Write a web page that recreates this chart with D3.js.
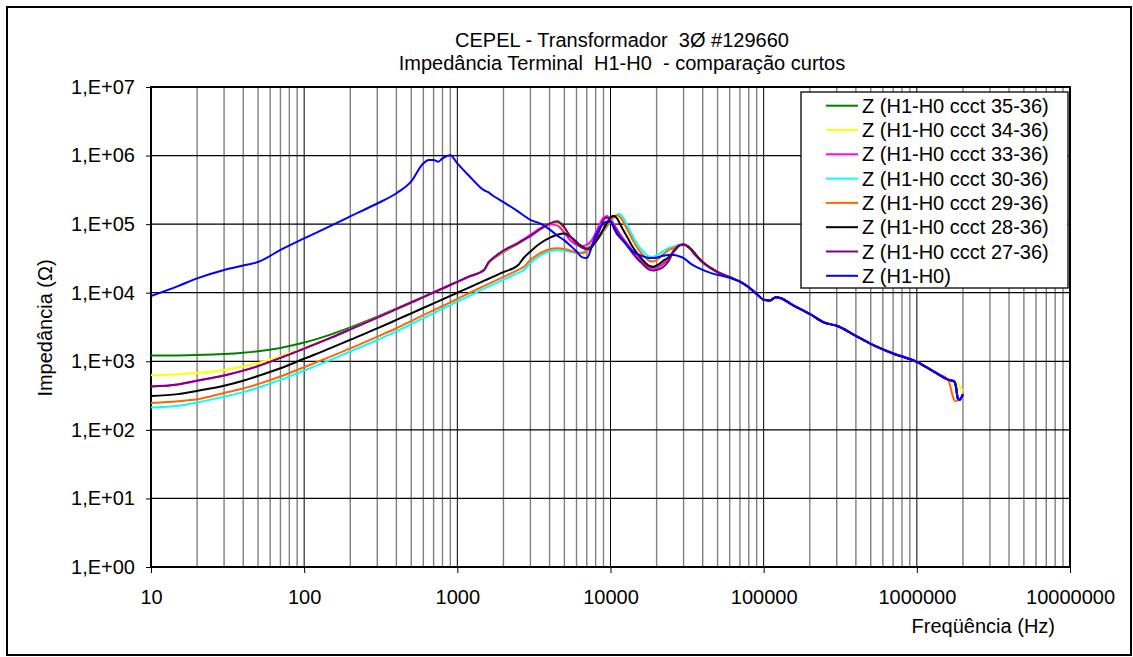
<!DOCTYPE html>
<html>
<head>
<meta charset="utf-8">
<script src="https://cdn.jsdelivr.net/npm/d3@7"></script>
<style>
  html, body { margin: 0; padding: 0; background: #fff; }
  svg text { font-family: "Liberation Sans", Arial, Helvetica, sans-serif; fill: #000; }
</style>
</head>
<body>
<svg id="chart" width="1133" height="657"></svg>
<script>
// Frequency sweep points (Hz), shared by every measured curve
const freq = [10, 15, 20, 30, 40, 50, 70, 100, 150, 200, 300, 400, 500, 600, 650, 700, 750, 800, 900, 1000,
  1200, 1500, 1600, 1700, 2000, 2500, 2700, 3000, 3500, 4000, 4500, 5000, 5500, 6000, 6500, 7000, 7500, 8000,
  8500, 9000, 9500, 10000, 10500, 11000, 11500, 12000, 13000, 14000, 15000, 16000, 17000, 18000, 19000, 20000,
  22000, 24000, 26000, 28000, 30000, 33000, 36000, 40000, 45000, 50000, 60000, 70000, 80000, 90000, 100000,
  110000, 120000, 130000, 150000, 200000, 250000, 300000, 400000, 500000, 700000, 1000000, 1300000, 1600000,
  1750000, 1800000, 1850000, 1900000, 2000000];

// Impedance magnitude |Z| (ohm) for each short-circuit configuration
const zCcct3536 = [1210, 1219, 1234, 1275, 1331, 1399, 1567, 1874, 2469, 3118, 4480, 5879, 7294, 8716, 9429, 10143, 10858, 11573, 13005, 14438,
  17308, 21615, 27000, 30500, 39000, 52000, 58000, 68000, 86000, 100000, 103000, 85000, 64000, 53000, 48000, 47000, 52000, 66000,
  90000, 118000, 127000, 118000, 100000, 84000, 72000, 63000, 50000, 40000, 33500, 29000, 25500, 23500, 23000, 23500,
  26500, 31500, 42000, 49000, 50500, 44000, 35000, 27500, 23000, 20000, 16800, 14500, 12000, 9600, 7900,
  7700, 8600, 8300, 6900, 4900, 3650, 3300, 2350, 1800, 1300, 980, 700, 540,
  510, 430, 290, 275, 330];

const zCcct3436 = [627, 647, 674, 747, 839, 943, 1177, 1563, 2243, 2942, 4359, 5787, 7220, 8655, 9372, 10090, 10808, 11527, 12964, 14401,
  17277, 21591, 27500, 31000, 40000, 53000, 59000, 69000, 87000, 100000, 100000, 80000, 60000, 51000, 47500, 48000, 54000, 70000,
  95000, 122000, 129000, 118000, 100000, 84000, 72000, 63000, 50000, 40000, 33500, 29000, 25500, 23000, 22000, 22500,
  25500, 31000, 42000, 49000, 50500, 44000, 35000, 27500, 23000, 20000, 16800, 14500, 12000, 9600, 7900,
  7700, 8600, 8300, 6900, 4900, 3650, 3300, 2350, 1800, 1300, 980, 700, 540,
  515, 500, 470, 430, 370];

const zCcct3336 = [430, 459, 520, 620, 730, 850, 1120, 1530, 2210, 2915, 4340, 5772, 7207, 8643, 9362, 10081, 10800, 11519, 12957, 14395,
  17272, 21587, 28000, 31500, 41000, 54000, 60000, 70000, 88000, 100000, 95000, 75000, 57000, 50000, 48000, 50000, 57000, 75000,
  100000, 125000, 131000, 118000, 100000, 84000, 72000, 63000, 50000, 40000, 33000, 28500, 25000, 23000, 22500, 23000,
  26000, 31000, 42000, 49000, 50500, 44000, 35000, 27500, 23000, 20000, 16800, 14500, 12000, 9600, 7900,
  7700, 8600, 8300, 6900, 4900, 3650, 3300, 2350, 1800, 1300, 980, 700, 540,
  510, 430, 290, 275, 330];

const zCcct3036 = [211, 224, 250, 305, 355, 412, 535, 735, 1060, 1390, 2045, 2722, 3500, 4250, 4650, 5050, 5450, 5850, 6600, 7400,
  9000, 11500, 12300, 13100, 15500, 19500, 21000, 27000, 35000, 40000, 41500, 41000, 39500, 38000, 38500, 42000, 48000, 56000,
  66000, 78000, 92000, 108000, 124000, 136000, 140000, 128000, 92000, 66000, 51000, 42000, 36500, 33500, 33500, 35000,
  40000, 45000, 47000, 50000, 51000, 45000, 36000, 28000, 23000, 20000, 16800, 14500, 12000, 9600, 7900,
  7700, 8600, 8300, 6900, 4900, 3650, 3300, 2350, 1800, 1300, 980, 700, 540,
  510, 430, 290, 275, 330];

const zCcct2936 = [247, 261, 279, 345, 400, 465, 600, 820, 1180, 1540, 2280, 3030, 3850, 4700, 5120, 5550, 5980, 6400, 7250, 8100,
  9900, 12600, 13500, 14400, 17000, 21500, 23500, 30000, 38000, 43000, 44500, 43500, 41000, 38500, 37500, 40000, 46000, 55000,
  66000, 80000, 95000, 112000, 127000, 135000, 128000, 112000, 80000, 58000, 45000, 37000, 32000, 29000, 28500, 30000,
  36000, 42000, 45000, 49000, 50500, 45000, 36000, 28000, 23000, 20000, 16800, 14500, 12000, 9600, 7900,
  7700, 8600, 8300, 6900, 4900, 3650, 3300, 2350, 1800, 1300, 980, 700, 540,
  275, 262, 268, 280, 320];

const zCcct2836 = [312, 332, 370, 440, 520, 610, 790, 1090, 1570, 2060, 3012, 4007, 5004, 6001, 6500, 6999, 7498, 7997, 8996, 9994,
  11992, 14988, 16000, 17000, 20000, 25400, 31800, 40000, 53000, 63000, 70000, 73000, 65000, 55000, 47000, 43500, 46000, 55000,
  68000, 85000, 105000, 125000, 133000, 122000, 102000, 85000, 62000, 46000, 37000, 31000, 27000, 24500, 24000, 25000,
  29000, 33000, 40000, 48000, 50500, 45000, 36000, 28000, 23000, 20000, 16800, 14500, 12000, 9600, 7900,
  7700, 8600, 8300, 6900, 4900, 3650, 3300, 2350, 1800, 1300, 980, 700, 540,
  510, 430, 290, 275, 330];

const zCcct2736 = [430, 459, 520, 620, 730, 850, 1120, 1530, 2210, 2915, 4340, 5772, 7207, 8643, 9362, 10081, 10800, 11519, 12957, 14395,
  17272, 21587, 28000, 31500, 41000, 53000, 58700, 67000, 85000, 102000, 110000, 90000, 65000, 52000, 45500, 43000, 47000, 60000,
  82000, 115000, 125000, 112000, 95000, 80000, 68000, 60000, 47000, 37000, 31000, 27000, 23500, 21500, 21000, 21500,
  23500, 29000, 41000, 49000, 50500, 44000, 35000, 27500, 23000, 20000, 16800, 14500, 12000, 9600, 7900,
  7700, 8600, 8300, 6900, 4900, 3650, 3300, 2350, 1800, 1300, 980, 700, 540,
  510, 430, 290, 275, 330];

const zH1H0 = [8950, 12500, 16200, 21500, 25000, 28000, 42000, 62000, 95000, 130000, 200000, 282000, 420000, 770000, 862000, 862000, 815000, 912000, 1010000, 770000,
  500000, 310000, 290000, 262000, 210000, 152000, 135000, 115000, 102000, 84000, 68000, 58000, 48000, 40000, 33000, 32000, 45000, 68000,
  88000, 103000, 108000, 108000, 88000, 72000, 64000, 58000, 47000, 40000, 36500, 34500, 33000, 32000, 32000, 32500,
  34500, 35500, 35500, 34000, 32000, 27000, 24000, 21500, 19500, 18200, 16500, 14500, 12000, 9600, 7900,
  7700, 8600, 8300, 6900, 4900, 3650, 3300, 2350, 1800, 1300, 980, 700, 540,
  510, 430, 290, 275, 330];

const seriesNames = ["Z (H1-H0 ccct 35-36)", "Z (H1-H0 ccct 34-36)", "Z (H1-H0 ccct 33-36)", "Z (H1-H0 ccct 30-36)",
  "Z (H1-H0 ccct 29-36)", "Z (H1-H0 ccct 28-36)", "Z (H1-H0 ccct 27-36)", "Z (H1-H0)"];
const seriesColors = ["#008000", "#FFFF00", "#FF00FF", "#00FFFF", "#FF6600", "#000000", "#800080", "#0000FF"];
const seriesValues = [zCcct3536, zCcct3436, zCcct3336, zCcct3036, zCcct2936, zCcct2836, zCcct2736, zH1H0];

const xTicks = [10, 100, 1000, 10000, 100000, 1000000, 10000000];
const yTicks = [1, 10, 100, 1000, 10000, 100000, 1000000, 10000000];

const titleLines = ["CEPEL - Transformador  3\u00D8 #129660", "Impedância Terminal  H1-H0  - comparação curtos"];
const xTitle = "Freqüência (Hz)";
const yTitle = "Impedância (\u03A9)";

// ---- layout ----
const plot = { left: 151, right: 1070, top: 87, bottom: 567 };
const svg = d3.select("#chart");

const x = d3.scaleLog().domain([10, 1e7]).range([plot.left, plot.right]);
const y = d3.scaleLog().domain([1, 1e7]).range([plot.bottom, plot.top]);

// outer chart frame
svg.append("rect").attr("x", 7).attr("y", 7).attr("width", 1124).attr("height", 648)
  .attr("fill", "#fff").attr("stroke", "#000").attr("stroke-width", 2);

// titles
const title = svg.append("g").attr("font-size", 20).attr("text-anchor", "middle");
titleLines.forEach((t, i) => {
  title.append("text").attr("x", 622).attr("y", 47 + i * 22.5).style("white-space", "pre").text(t);
});

// minor vertical gridlines (2..9 within each decade)
const minorX = [];
for (let d = 10; d < 1e7; d *= 10) for (let k = 2; k <= 9; k++) minorX.push(d * k);

const grid = svg.append("g");
grid.selectAll("line.minor").data(minorX).join("line")
  .attr("class", "minor")
  .attr("x1", d => x(d)).attr("x2", d => x(d))
  .attr("y1", plot.top).attr("y2", plot.bottom)
  .attr("stroke", "#808080").attr("stroke-width", 1.4);
grid.selectAll("line.vmajor").data(xTicks).join("line")
  .attr("class", "vmajor")
  .attr("x1", d => x(d)).attr("x2", d => x(d))
  .attr("y1", plot.top).attr("y2", plot.bottom)
  .attr("stroke", "#000").attr("stroke-width", 1);
grid.selectAll("line.hmajor").data(yTicks).join("line")
  .attr("class", "hmajor")
  .attr("x1", plot.left).attr("x2", plot.right)
  .attr("y1", d => y(d)).attr("y2", d => y(d))
  .attr("stroke", "#000").attr("stroke-width", 1.2);

// axes
const xAxis = d3.axisBottom(x).tickValues(xTicks).tickFormat(d3.format("d"))
  .tickSizeInner(6).tickSizeOuter(0).tickPadding(17);
const gx = svg.append("g").attr("transform", `translate(0,${plot.bottom})`).call(xAxis);
gx.select(".domain").remove();
gx.selectAll("text").attr("font-size", 20).attr("font-family", null);
gx.selectAll("line").attr("stroke", "#000");

const fmtExp = d => "1,E+" + String(Math.round(Math.log10(d))).padStart(2, "0");
const yAxis = d3.axisLeft(y).tickValues(yTicks).tickFormat(fmtExp)
  .tickSizeInner(5).tickSizeOuter(0).tickPadding(11);
const gy = svg.append("g").attr("transform", `translate(${plot.left},0)`).call(yAxis);
gy.select(".domain").remove();
gy.selectAll("text").attr("font-size", 20).attr("font-family", null);
gy.selectAll("line").attr("stroke", "#000");

// axis titles
svg.append("text").attr("x", 1055).attr("y", 633).attr("font-size", 20)
  .attr("text-anchor", "end").text(xTitle);
svg.append("text").attr("transform", "translate(52,328) rotate(-90)").attr("font-size", 20)
  .attr("text-anchor", "middle").text(yTitle);

// plot border
svg.append("rect").attr("x", plot.left).attr("y", plot.top)
  .attr("width", plot.right - plot.left).attr("height", plot.bottom - plot.top)
  .attr("fill", "none").attr("stroke", "#000").attr("stroke-width", 2);

// curves
const line = d3.line()
  .x(d => x(d[0])).y(d => y(d[1]))
  .curve(d3.curveMonotoneX);
const curves = svg.append("g").attr("fill", "none").attr("stroke-width", 2)
  .attr("stroke-linejoin", "round");
seriesValues.forEach((vals, i) => {
  curves.append("path")
    .datum(freq.map((f, j) => [f, vals[j]]))
    .attr("stroke", seriesColors[i])
    .attr("d", line);
});

// legend
const lg = svg.append("g");
lg.append("rect").attr("x", 801).attr("y", 92).attr("width", 267).attr("height", 196)
  .attr("fill", "#fff").attr("stroke", "#000").attr("stroke-width", 1.3);
seriesNames.forEach((name, i) => {
  const cy = 105.7 + i * 24.3;
  lg.append("line").attr("x1", 826).attr("x2", 858).attr("y1", cy).attr("y2", cy)
    .attr("stroke", seriesColors[i]).attr("stroke-width", 2);
  lg.append("text").attr("x", 862).attr("y", cy).attr("dy", "0.35em")
    .attr("font-size", 20).text(name);
});
</script>
</body>
</html>
